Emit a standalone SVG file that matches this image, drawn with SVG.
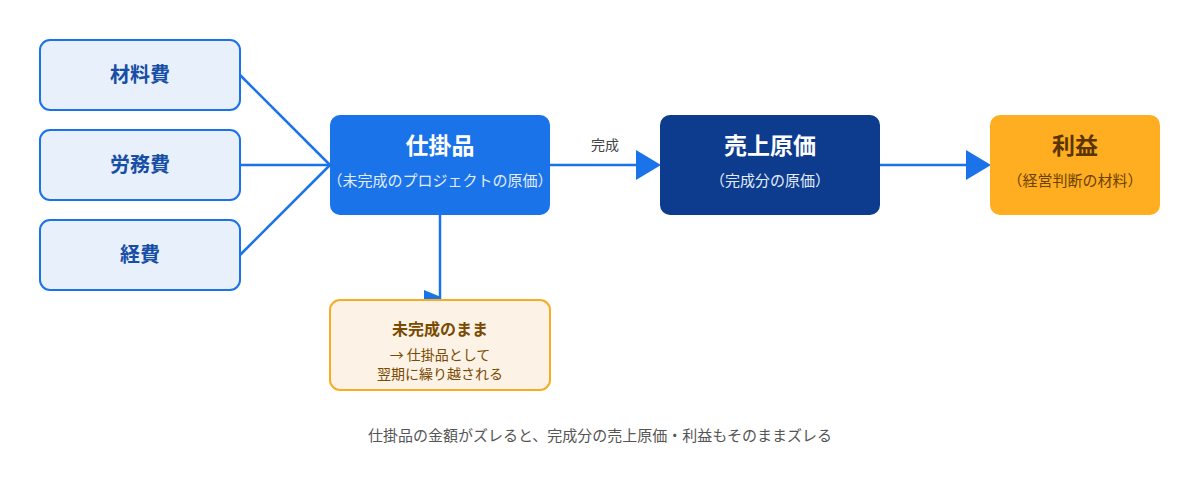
<svg xmlns="http://www.w3.org/2000/svg" width="1200" height="480" viewBox="0 0 1200 480">
<style>
text{font-family:"Noto Sans CJK JP","Noto Sans",sans-serif;text-anchor:middle}
.src rect{fill:#E8F0FC;stroke:#1A73E8;stroke-width:2}
.src text{font-size:20px;font-weight:bold;fill:#174EA6}
.conn line{stroke:#1A73E8;stroke-width:2.5;fill:none}
.arrow{fill:#1A73E8}
.t{font-size:23px;font-weight:bold;fill:#fff}
.s{font-size:15px;fill:#E3ECFB}
</style>
<rect width="1200" height="480" fill="#fff"/>
<g class="conn">
<line x1="240" y1="75" x2="330" y2="165"/>
<line x1="240" y1="165" x2="330" y2="165"/>
<line x1="240" y1="255" x2="330" y2="165"/>
<line x1="550" y1="165" x2="640" y2="165"/>
<polygon class="arrow" points="636,150 661,165 636,180"/>
<text x="605" y="150" style="font-size:14px;fill:#444">完成</text>
<line x1="880" y1="165" x2="970" y2="165"/>
<polygon class="arrow" points="966,150 991,165 966,180"/>
<line x1="440" y1="215" x2="440" y2="299"/>
<polygon class="arrow" points="424,290 441,297 441,302 424,302"/>
</g>
<g id="n1" class="src"><rect x="40" y="40" width="200" height="70" rx="10"/><text x="140" y="82">材料費</text></g>
<g id="n2" class="src"><rect x="40" y="130" width="200" height="70" rx="10"/><text x="140" y="172">労務費</text></g>
<g id="n3" class="src"><rect x="40" y="220" width="200" height="70" rx="10"/><text x="140" y="262">経費</text></g>
<g id="wip"><rect x="330" y="115" width="220" height="100" rx="10" fill="#1A73E8"/><text class="t" x="440" y="154">仕掛品</text><text class="s" x="440" y="186">（未完成のプロジェクトの原価）</text></g>
<g id="cogs"><rect x="660" y="115" width="220" height="100" rx="10" fill="#0D3C8F"/><text class="t" x="770" y="154">売上原価</text><text class="s" x="770" y="186">（完成分の原価）</text></g>
<g id="profit"><rect x="990" y="115" width="170" height="100" rx="10" fill="#FFAE22"/><text class="t" x="1075" y="154" style="fill:#5A3500">利益</text><text class="s" x="1075" y="186" style="fill:#6B4200">（経営判断の材料）</text></g>
<g id="carry"><rect x="330" y="300" width="220" height="90" rx="10" fill="#FDF2E6" stroke="#F9AB22" stroke-width="2"/><text x="440" y="335" style="font-size:16px;font-weight:bold;fill:#7A4A00">未完成のまま</text><text x="440" y="360" style="font-size:14px;fill:#7A4A00">→ 仕掛品として</text><text x="440" y="379" style="font-size:14px;fill:#7A4A00">翌期に繰り越される</text></g>
<text x="600" y="441" style="font-size:15px;fill:#555">仕掛品の金額がズレると、完成分の売上原価・利益もそのままズレる</text>
</svg>
